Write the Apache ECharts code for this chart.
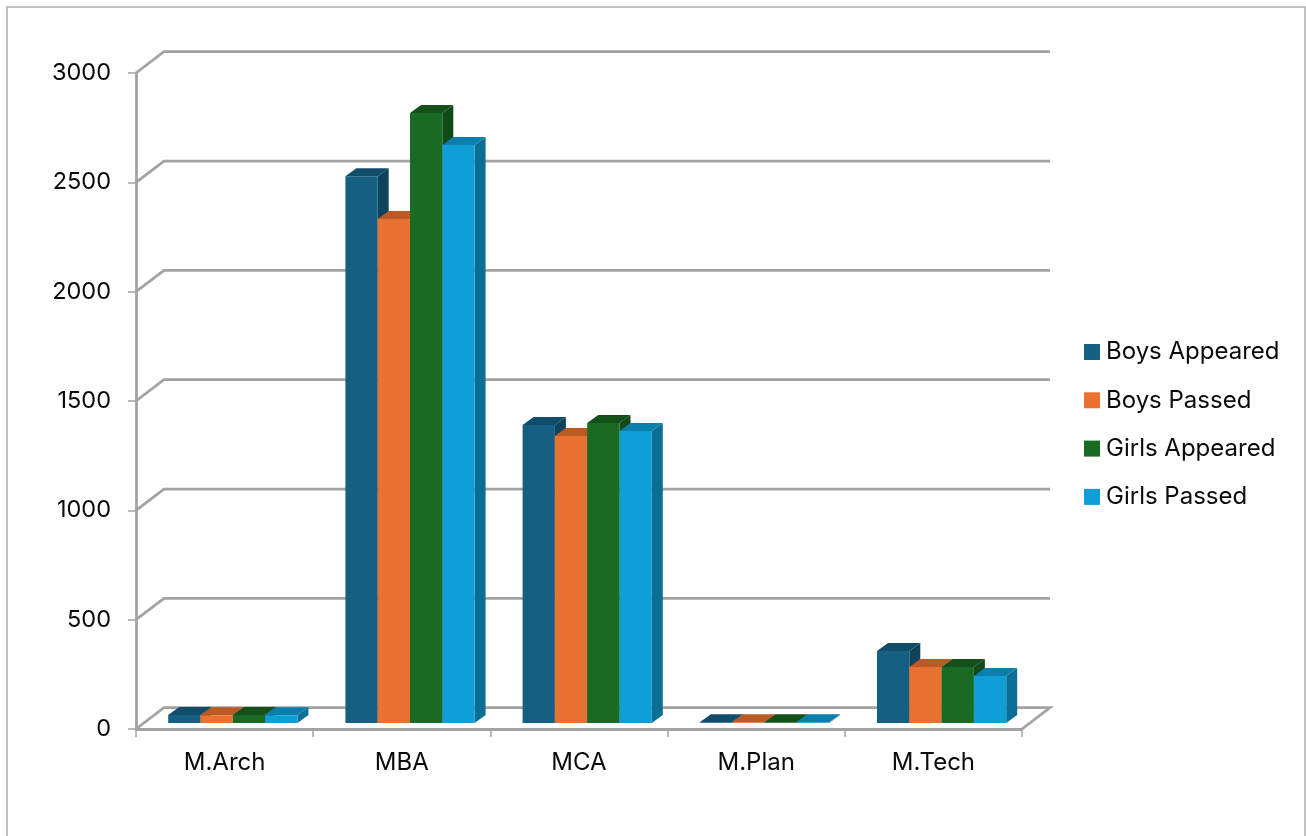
<!DOCTYPE html>
<html><head><meta charset="utf-8">
<style>html,body{margin:0;padding:0;background:#fff}#c{width:1306px;height:836px}</style>
<script src="https://cdn.jsdelivr.net/npm/echarts@6/dist/echarts.min.js"></script>
</head><body><div id="c"></div>
<script>
const categories = ['M.Arch','MBA','MCA','M.Plan','M.Tech'];
const boysAppeared = [37,2500,1363,4,329];
const boysPassed = [36,2305,1312,3,256];
const girlsAppeared = [37,2790,1372,4,256];
const girlsPassed = [35,2643,1335,3,215];
const yTicks = [0,500,1000,1500,2000,2500,3000];
const seriesNames = ['Boys Appeared','Boys Passed','Girls Appeared','Girls Passed'];
const seriesValues = [boysAppeared,boysPassed,girlsAppeared,girlsPassed];
const frontColors = ['#156082','#E97132','#196B24','#0F9ED5'];
const topColors = ['#124C6B','#BC5A26','#145019','#0C7EAB'];
const sideColors = ['#0F435B','#A84F22','#114A18','#0B6E95'];

const FONT = 'Inter';
const AXIS = '#A3A3A3';
const WALL_DX = 28, WALL_DY = -21.3;
const BAR_OX = 8.2, BAR_OY = -6, BAR_DX = 11, BAR_DY = -8;

function wallItem(params, api){
  const v = api.value(0);
  const p0 = api.coord([0, v]);
  const cs = params.coordSys;
  const left = cs.x, right = cs.x + cs.width, y = p0[1];
  const pts = [[left,y],[left+WALL_DX,y+WALL_DY],[right+WALL_DX,y+WALL_DY]];
  if (v === 0) pts.push([right,y]);
  return {type:'polyline', shape:{points:pts}, style:{fill:'none', stroke:AXIS, lineWidth:2.8}, silent:true};
}
function barItem(idx){
  return function(params, api){
    const band = api.size([1,0])[0];
    const w = band*0.1823;
    const c = api.coord([api.value(0), api.value(1)]);
    const b = api.coord([api.value(0), 0]);
    const x = c[0] - 2*w + idx*w + BAR_OX;
    const yt = c[1] + BAR_OY, yb = b[1] + BAR_OY;
    return {type:'group', children:[
      {type:'polygon', shape:{points:[[x+w,yt],[x+w+BAR_DX,yt+BAR_DY],[x+w+BAR_DX,yb+BAR_DY],[x+w,yb]]}, style:{fill:sideColors[idx]}},
      {type:'polygon', shape:{points:[[x,yt],[x+BAR_DX,yt+BAR_DY],[x+w+BAR_DX,yt+BAR_DY],[x+w,yt]]}, style:{fill:topColors[idx]}},
      {type:'rect', shape:{x:x,y:yt,width:w,height:yb-yt}, style:{fill:frontColors[idx]}}
    ]};
  };
}
const series = [{
  type:'custom', silent:true, z:1, renderItem:wallItem, encode:{x:-1,y:0},
  data:yTicks.map(v=>[v]), clip:false, animation:false
}];
seriesNames.forEach((n,i)=>{
  series.push({
    name:n, type:'custom', z:2+i, clip:false, animation:false,
    itemStyle:{color:frontColors[i]},
    renderItem:barItem(i), encode:{x:0,y:1},
    data:seriesValues[i].map((v,k)=>[k,v])
  });
});
const chart = echarts.init(document.getElementById('c'),null,{renderer:'canvas'});
chart.setOption({
  animation:false, backgroundColor:'#fff',
  grid:{left:136,right:284,top:73,bottom:107},
  xAxis:{type:'category',data:categories,boundaryGap:true,
    axisLine:{lineStyle:{color:AXIS,width:2.8}},
    axisTick:{show:true,length:8,alignWithLabel:false,lineStyle:{color:AXIS,width:1.5}},
    axisLabel:{color:'#0a0a0a',fontFamily:FONT,fontSize:24,margin:22},
    splitLine:{show:false}},
  yAxis:{type:'value',min:0,max:3000,interval:500,
    axisLine:{show:true,lineStyle:{color:AXIS,width:2.8}},
    axisTick:{show:true,length:8,lineStyle:{color:AXIS,width:1.5}},
    axisLabel:{color:'#0a0a0a',fontFamily:FONT,fontSize:23.5,margin:25,padding:[4,0,0,0],formatter:v=>String(v)},
    splitLine:{show:false}},
  legend:{orient:'vertical',left:1084,top:339.5,padding:0,itemWidth:16,itemHeight:16,itemGap:23.3,icon:'rect',
    data:seriesNames,
    textStyle:{color:'#0a0a0a',fontFamily:FONT,fontSize:24,lineHeight:24,padding:[1,0,0,1]}},
  graphic:[{type:'polyline',silent:true,shape:{points:[[7,836],[7,7],[1305,7],[1305,836]]},
    style:{fill:'none',stroke:'#ADADAD',lineWidth:1.5}}],
  series
});
</script></body></html>
